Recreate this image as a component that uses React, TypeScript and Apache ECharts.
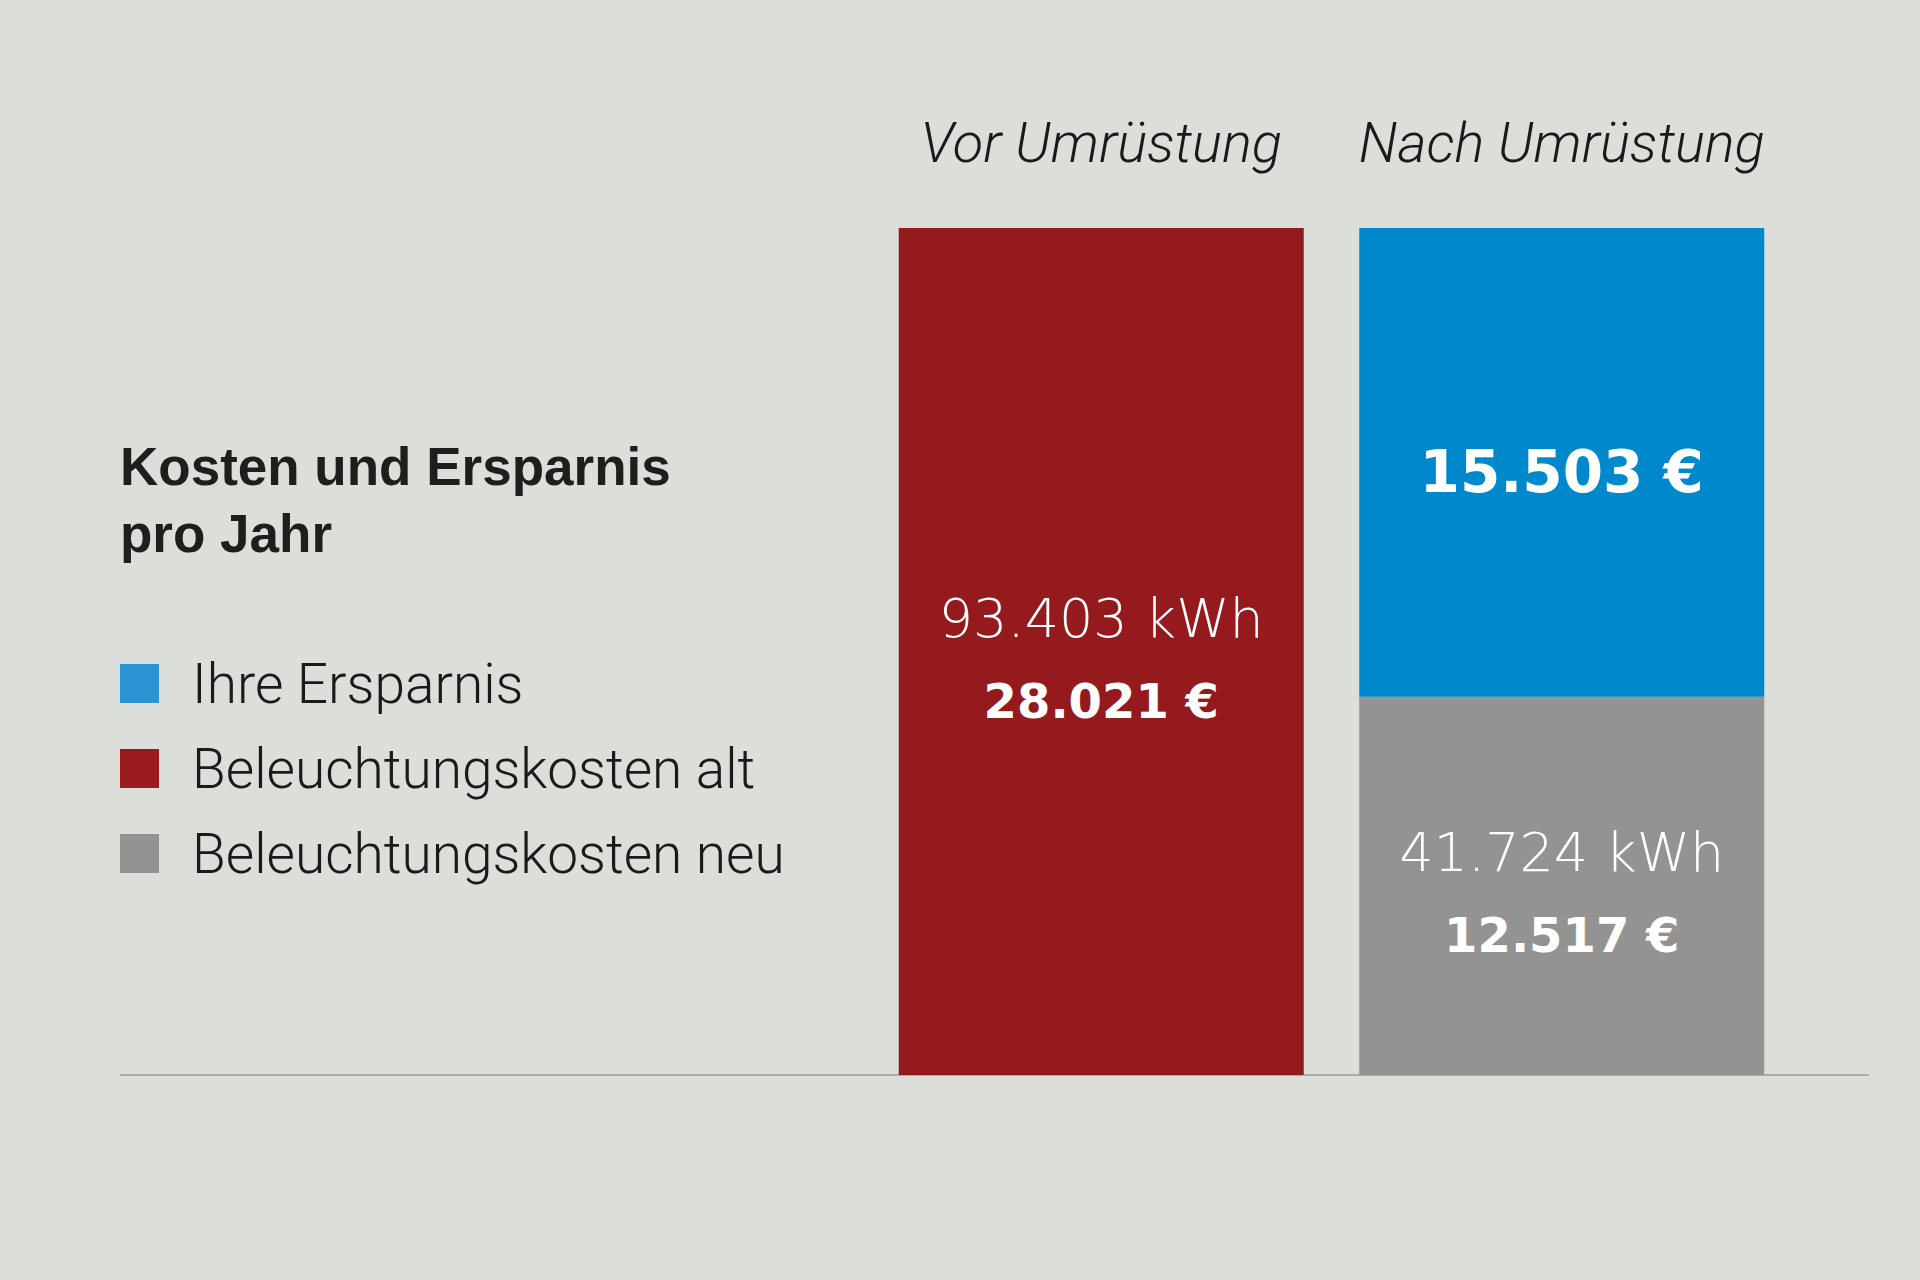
import React, { useEffect, useRef } from "react";
import * as echarts from "echarts";

const categories = ["Vor Umrüstung", "Nach Umrüstung"];
const altCosts: (number | string)[] = [28021, "-"];
const newCosts: (number | string)[] = ["-", 12517];
const savings: (number | string)[] = ["-", 15503];
const kwhValues = [93403, 41724];
const seriesNames = ["Ihre Ersparnis", "Beleuchtungskosten alt", "Beleuchtungskosten neu"];
const titleLines = ["Kosten und Ersparnis", "pro Jahr"];

const fmt = (n: number) => String(n).replace(/\B(?=(\d{3})+(?!\d))/g, ".");

const RED = "#951a1d";
const BLUE = "#0088cc";
const GRAY = "#939393";

export default function App() {
  const ref = useRef<HTMLDivElement>(null);
  useEffect(() => {
    document.body.style.margin = "0";
    const chart = echarts.init(ref.current!, null, { renderer: "svg" });
    const numFont = "DejaVu Sans";
    const rich = {
      k: { fontFamily: numFont, fontWeight: 200, fontSize: 54, color: "#fff", lineHeight: 82 },
      e: { fontFamily: numFont, fontWeight: "bold", fontSize: 48, color: "#fff", lineHeight: 82 },
      big: { fontFamily: numFont, fontWeight: "bold", fontSize: 58, color: "#fff", lineHeight: 70 },
    };
    chart.setOption({
      animation: false,
      backgroundColor: "#dcded9",
      title: {
        text: titleLines.join("\n"),
        left: 115,
        top: 428,
        textStyle: {
          fontFamily: "Liberation Sans",
          fontWeight: "bold",
          fontSize: 53,
          lineHeight: 67,
          color: "#1e1e1e",
        },
      },
      legend: {
        orient: "vertical",
        left: 115,
        top: 651,
        itemWidth: 39,
        itemHeight: 39,
        itemGap: 30,
        icon: "rect",
        selectedMode: false,
        textStyle: {
          fontFamily: "Roboto",
          fontWeight: 300,
          fontSize: 55,
          lineHeight: 39,
          color: "#1a1a1a",
          padding: [0, 0, 0, 28],
        },
        data: [
          { name: seriesNames[0], itemStyle: { color: "#2b92d4" } },
          { name: seriesNames[1], itemStyle: { color: "#9a1a1e" } },
          { name: seriesNames[2], itemStyle: { color: GRAY } },
        ],
      },
      grid: { left: 871, right: 128, top: 228, bottom: 205 },
      xAxis: {
        type: "category",
        position: "top",
        data: categories,
        axisLine: { show: false },
        axisTick: { show: false },
        axisLabel: {
          interval: 0,
          hideOverlap: false,
          margin: 57,
          fontFamily: "Roboto",
          fontStyle: "italic",
          fontWeight: 300,
          fontSize: 56,
          color: "#1a1a1a",
        },
      },
      yAxis: { type: "value", min: 0, max: 28021, show: false, splitLine: { show: false } },
      graphic: [
        {
          type: "line",
          z: 0,
          shape: { x1: 120, y1: 1075, x2: 1869, y2: 1075 },
          style: { stroke: "#ababab", lineWidth: 2 },
        },
      ],
      series: [
        {
          name: seriesNames[1],
          type: "bar",
          stack: "s",
          barWidth: 405,
          data: altCosts,
          itemStyle: { color: RED },
          label: {
            show: true,
            position: "inside",
            offset: [0, 8],
            formatter: (p: any) => `{k|${fmt(kwhValues[0])} kWh}\n{e|${fmt(p.value)} €}`,
            rich,
          },
        },
        {
          name: seriesNames[2],
          type: "bar",
          stack: "s",
          barWidth: 405,
          data: newCosts,
          itemStyle: { color: GRAY },
          label: {
            show: true,
            position: "inside",
            offset: [0, 8],
            formatter: (p: any) => `{k|${fmt(kwhValues[1])} kWh}\n{e|${fmt(p.value)} €}`,
            rich,
          },
        },
        {
          name: seriesNames[0],
          type: "bar",
          stack: "s",
          barWidth: 405,
          data: savings,
          itemStyle: { color: BLUE },
          label: {
            show: true,
            position: "inside",
            offset: [0, 10],
            formatter: (p: any) => `{big|${fmt(p.value)} €}`,
            rich,
          },
        },
      ],
    });
    return () => chart.dispose();
  }, []);
  return <div ref={ref} style={{ width: 1920, height: 1280 }} />;
}
